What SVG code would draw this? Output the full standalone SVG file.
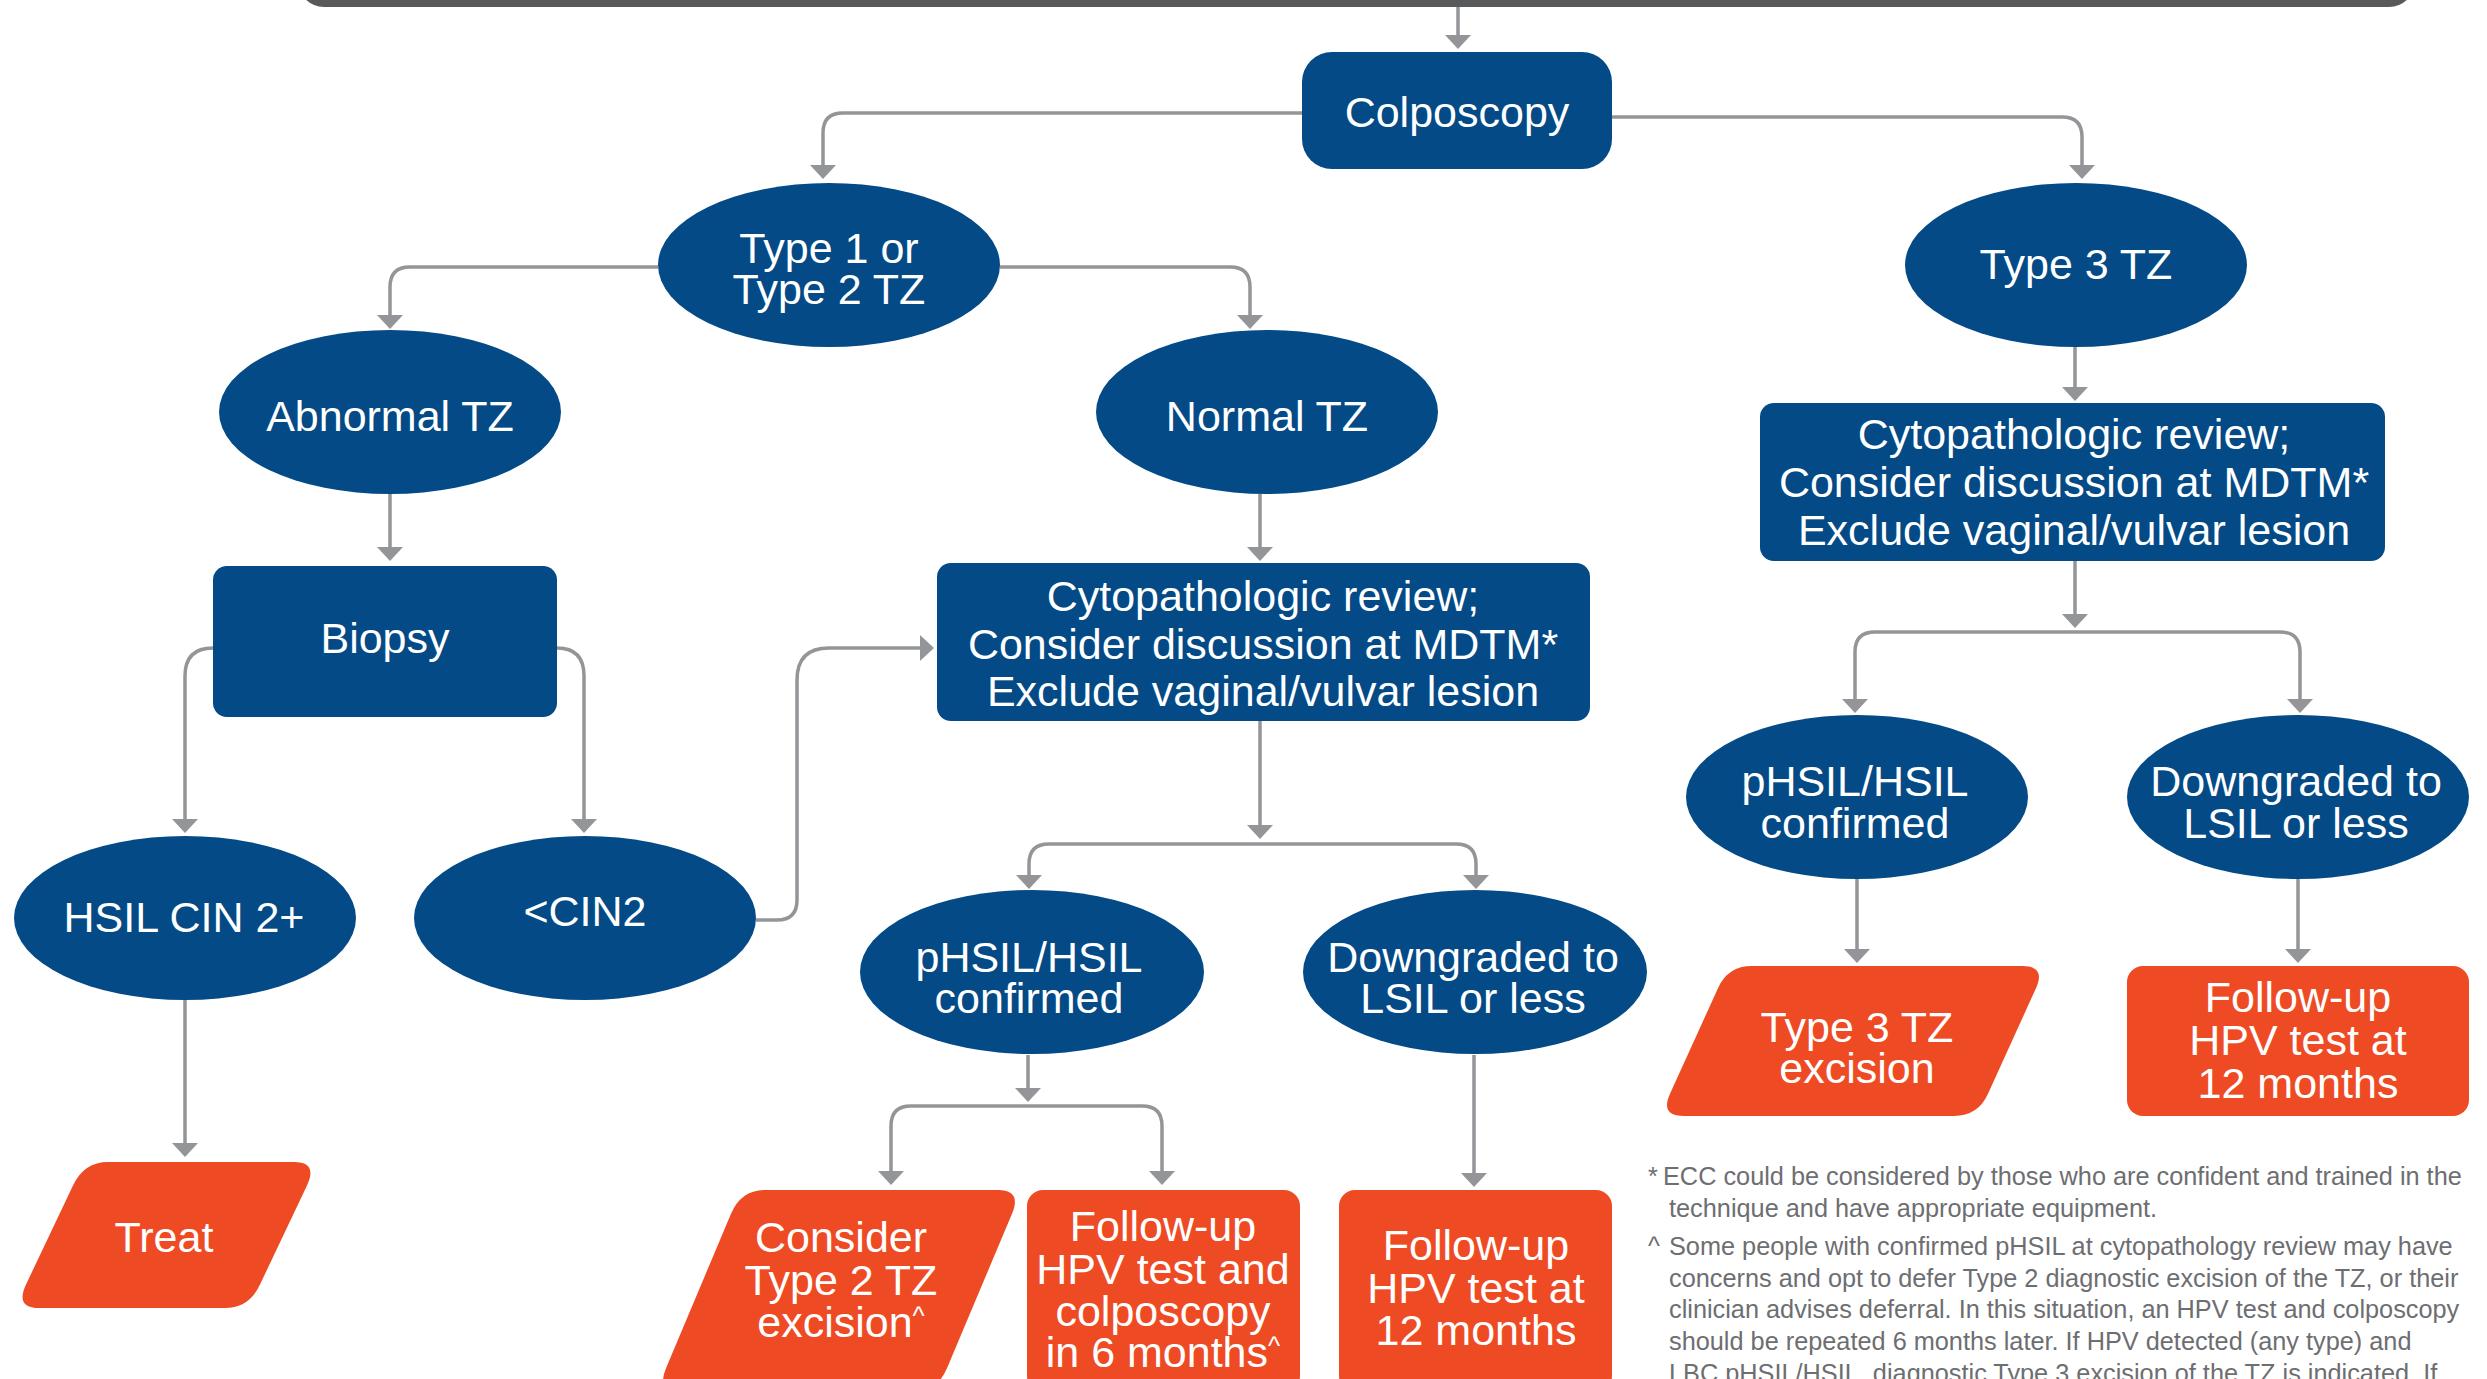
<svg xmlns="http://www.w3.org/2000/svg" width="2487" height="1379" viewBox="0 0 2487 1379">
  <defs>
    <marker id="arrow" viewBox="0 0 14 26" markerWidth="14" markerHeight="26" refX="1" refY="13" orient="auto" markerUnits="userSpaceOnUse">
      <path d="M0,0 L14,13 L0,26 Z" fill="#939598"/>
    </marker>
    <style>
      .bg { fill: #ffffff; }
      .bar { fill: #58595b; }
      .blue { fill: #034a86; }
      .orange { fill: #ee4b24; }
      .lbl { font-family: "Liberation Sans", Arial, Helvetica, sans-serif; font-size: 43px; fill: #ffffff; text-anchor: middle; }
      .sup { font-size: 26px; }
      .conn path { fill: none; stroke: #939598; stroke-width: 3.5; marker-end: url(#arrow); }
      .note { font-family: "Liberation Sans", Arial, Helvetica, sans-serif; font-size: 25.3px; fill: #6d6e71; }
    </style>
  </defs>

  <rect class="bg" x="0" y="0" width="2487" height="1379"/>

  <!-- bottom edge of the preceding step -->
  <rect class="bar" x="298" y="-60" width="2117" height="67" rx="26"/>

  <!-- connectors -->
  <g id="connectors" class="conn">
    <path d="M1458,7 V36"/>
    <path d="M1302,113 H843 Q823,113 823,133 V166"/>
    <path d="M1612,117 H2062 Q2082,117 2082,137 V166"/>
    <path d="M658,267 H410 Q390,267 390,287 V316"/>
    <path d="M1000,267 H1230 Q1250,267 1250,287 V316"/>
    <path d="M390,494 V548"/>
    <path d="M213,648 Q185,648 185,676 V820"/>
    <path d="M557,648 Q584,648 584,676 V820"/>
    <path d="M756,920 H777 Q797,920 797,900 V680 Q797,648 829,648 H921"/>
    <path d="M1260,494 V548"/>
    <path d="M1260,721 V826"/>
    <path d="M1260,844 H1049 Q1029,844 1029,864 V876"/>
    <path d="M1260,844 H1456 Q1476,844 1476,864 V876"/>
    <path d="M185,1000 V1144"/>
    <path d="M1028,1055 V1089"/>
    <path d="M1028,1106 H911 Q891,1106 891,1126 V1172"/>
    <path d="M1028,1106 H1142 Q1162,1106 1162,1126 V1172"/>
    <path d="M1474,1055 V1174"/>
    <path d="M2075,347 V388"/>
    <path d="M2075,561 V615"/>
    <path d="M2075,632 H1875 Q1855,632 1855,652 V700"/>
    <path d="M2075,632 H2280 Q2300,632 2300,652 V700"/>
    <path d="M1857,879 V950"/>
    <path d="M2298,879 V950"/>
  </g>

  <!-- nodes -->
  <g id="colposcopy">
    <rect class="blue" x="1302" y="52" width="310" height="117" rx="30"/>
    <text class="lbl" x="1457" y="127">Colposcopy</text>
  </g>

  <g id="type12">
    <ellipse class="blue" cx="829" cy="265" rx="171" ry="82"/>
    <text class="lbl" x="829" y="263">Type 1 or</text>
    <text class="lbl" x="829" y="304">Type 2 TZ</text>
  </g>

  <g id="type3">
    <ellipse class="blue" cx="2076" cy="265" rx="171" ry="82"/>
    <text class="lbl" x="2076" y="279">Type 3 TZ</text>
  </g>

  <g id="abnormal">
    <ellipse class="blue" cx="390" cy="412" rx="171" ry="82"/>
    <text class="lbl" x="390" y="431">Abnormal TZ</text>
  </g>

  <g id="normal">
    <ellipse class="blue" cx="1267" cy="412" rx="171" ry="82"/>
    <text class="lbl" x="1267" y="431">Normal TZ</text>
  </g>

  <g id="biopsy">
    <rect class="blue" x="213" y="566" width="344" height="151" rx="14"/>
    <text class="lbl" x="385" y="653">Biopsy</text>
  </g>

  <g id="review-mid">
    <rect class="blue" x="937" y="563" width="653" height="158" rx="14"/>
    <text class="lbl" x="1263" y="611">Cytopathologic review;</text>
    <text class="lbl" x="1263" y="659">Consider discussion at MDTM*</text>
    <text class="lbl" x="1263" y="706">Exclude vaginal/vulvar lesion</text>
  </g>

  <g id="review-right">
    <rect class="blue" x="1760" y="403" width="625" height="158" rx="14"/>
    <text class="lbl" x="2074" y="449">Cytopathologic review;</text>
    <text class="lbl" x="2074" y="497">Consider discussion at MDTM*</text>
    <text class="lbl" x="2074" y="545">Exclude vaginal/vulvar lesion</text>
  </g>

  <g id="hsil-cin2">
    <ellipse class="blue" cx="185" cy="918" rx="171" ry="82"/>
    <text class="lbl" x="184" y="932">HSIL CIN 2+</text>
  </g>

  <g id="lt-cin2">
    <ellipse class="blue" cx="585" cy="918" rx="171" ry="82"/>
    <text class="lbl" x="585" y="926">&lt;CIN2</text>
  </g>

  <g id="treat">
    <path class="orange" d="M108,1162 H294 Q318,1162 307,1185.5 L260,1284.5 Q249,1308 225,1308 H39 Q15,1308 26,1284.5 L73,1185.5 Q84,1162 108,1162 Z"/>
    <text class="lbl" x="164" y="1252">Treat</text>
  </g>

  <g id="phsil-mid">
    <ellipse class="blue" cx="1032" cy="972" rx="172" ry="82"/>
    <text class="lbl" x="1029" y="972">pHSIL/HSIL</text>
    <text class="lbl" x="1029" y="1013">confirmed</text>
  </g>

  <g id="downgraded-mid">
    <ellipse class="blue" cx="1475" cy="972" rx="172" ry="82"/>
    <text class="lbl" x="1473" y="972">Downgraded to</text>
    <text class="lbl" x="1473" y="1013">LSIL or less</text>
  </g>

  <g id="type2-excision">
    <path class="orange" d="M765,1190 H998 Q1022,1190 1011.9,1214 L947.1,1368 Q937,1392 913,1392 H680 Q656,1392 666.1,1368 L730.9,1214 Q741,1190 765,1190 Z"/>
    <text class="lbl" x="841" y="1252">Consider</text>
    <text class="lbl" x="841" y="1295">Type 2 TZ</text>
    <text class="lbl" x="841" y="1337">excision<tspan class="sup" dy="-12">^</tspan></text>
  </g>

  <g id="followup-6m">
    <rect class="orange" x="1027" y="1190" width="273" height="202" rx="16"/>
    <text class="lbl" x="1163" y="1241">Follow-up</text>
    <text class="lbl" x="1163" y="1284">HPV test and</text>
    <text class="lbl" x="1163" y="1326">colposcopy</text>
    <text class="lbl" x="1163" y="1367">in 6 months<tspan class="sup" dy="-12">^</tspan></text>
  </g>

  <g id="followup-12m-mid">
    <rect class="orange" x="1339" y="1190" width="273" height="202" rx="16"/>
    <text class="lbl" x="1476" y="1260">Follow-up</text>
    <text class="lbl" x="1476" y="1303">HPV test at</text>
    <text class="lbl" x="1476" y="1345">12 months</text>
  </g>

  <g id="phsil-right">
    <ellipse class="blue" cx="1857" cy="797" rx="171" ry="82"/>
    <text class="lbl" x="1855" y="796">pHSIL/HSIL</text>
    <text class="lbl" x="1855" y="838">confirmed</text>
  </g>

  <g id="downgraded-right">
    <ellipse class="blue" cx="2298" cy="797" rx="171" ry="82"/>
    <text class="lbl" x="2296" y="796">Downgraded to</text>
    <text class="lbl" x="2296" y="838">LSIL or less</text>
  </g>

  <g id="type3-excision">
    <path class="orange" d="M1752,966 H2022 Q2046,966 2036.1,987.9 L1987.9,1094.1 Q1978,1116 1954,1116 H1684 Q1660,1116 1669.9,1094.1 L1718.1,987.9 Q1728,966 1752,966 Z"/>
    <text class="lbl" x="1857" y="1042">Type 3 TZ</text>
    <text class="lbl" x="1857" y="1083">excision</text>
  </g>

  <g id="followup-12m-right">
    <rect class="orange" x="2127" y="966" width="342" height="150" rx="16"/>
    <text class="lbl" x="2298" y="1012">Follow-up</text>
    <text class="lbl" x="2298" y="1055">HPV test at</text>
    <text class="lbl" x="2298" y="1098">12 months</text>
  </g>

  <!-- footnotes -->
  <g id="footnotes" class="note">
    <text x="1648" y="1185">*</text>
    <text x="1663" y="1185">ECC could be considered by those who are confident and trained in the</text>
    <text x="1669" y="1217">technique and have appropriate equipment.</text>
    <text x="1648" y="1255">^</text>
    <text x="1669" y="1255">Some people with confirmed pHSIL at cytopathology review may have</text>
    <text x="1669" y="1287">concerns and opt to defer Type 2 diagnostic excision of the TZ, or their</text>
    <text x="1669" y="1318">clinician advises deferral. In this situation, an HPV test and colposcopy</text>
    <text x="1669" y="1350">should be repeated 6 months later. If HPV detected (any type) and</text>
    <text x="1669" y="1382">LBC pHSIL/HSIL, diagnostic Type 3 excision of the TZ is indicated. If</text>
  </g>
</svg>
